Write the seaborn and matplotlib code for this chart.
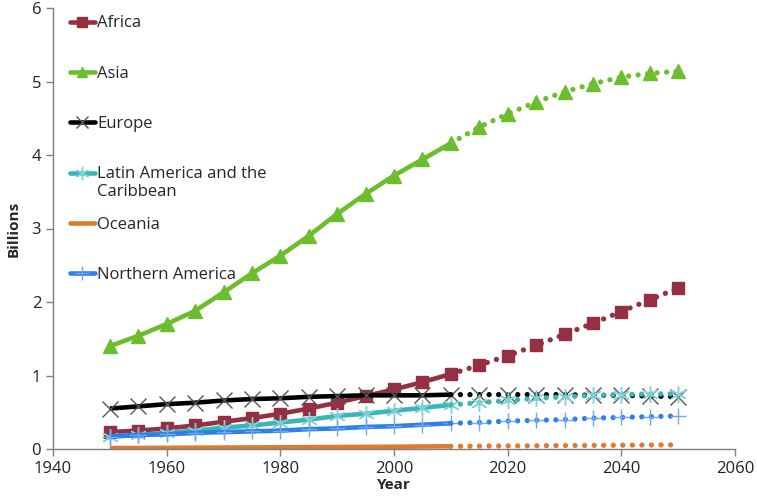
import numpy as np
import pandas as pd
import matplotlib
matplotlib.use("Agg")
import matplotlib.pyplot as plt
import seaborn as sns
from matplotlib.lines import Line2D

years = list(range(1950, 2055, 5))

africa = [0.23, 0.25, 0.28, 0.32, 0.37, 0.42, 0.48, 0.55, 0.63, 0.72, 0.81,
          0.91, 1.02, 1.14, 1.27, 1.41, 1.56, 1.71, 1.87, 2.03, 2.19]
asia = [1.40, 1.54, 1.70, 1.88, 2.13, 2.39, 2.63, 2.90, 3.20, 3.47, 3.72,
        3.94, 4.16, 4.38, 4.56, 4.72, 4.86, 4.97, 5.06, 5.11, 5.14]
europe = [0.55, 0.58, 0.61, 0.63, 0.66, 0.68, 0.69, 0.71, 0.72, 0.73, 0.73,
          0.73, 0.74, 0.74, 0.74, 0.74, 0.74, 0.73, 0.73, 0.72, 0.71]
latin = [0.17, 0.19, 0.22, 0.25, 0.29, 0.32, 0.36, 0.40, 0.45, 0.48, 0.52,
         0.56, 0.60, 0.63, 0.66, 0.69, 0.71, 0.73, 0.74, 0.75, 0.75]
oceania = [0.013, 0.014, 0.016, 0.018, 0.020, 0.021, 0.023, 0.025, 0.027,
           0.029, 0.031, 0.034, 0.037, 0.039, 0.042, 0.044, 0.047, 0.049,
           0.052, 0.054, 0.057]
n_america = [0.17, 0.19, 0.20, 0.22, 0.23, 0.24, 0.25, 0.27, 0.28, 0.30,
             0.31, 0.33, 0.35, 0.36, 0.38, 0.39, 0.40, 0.42, 0.43, 0.44, 0.45]

regions = ["Africa", "Asia", "Europe", "Latin America and the Caribbean",
           "Oceania", "Northern America"]
values = [africa, asia, europe, latin, oceania, n_america]

# line colour, marker, marker colour, marker size, marker edge width
styles = {
    "Africa": ("#953043", "s", "#953043", 9, 1),
    "Asia": ("#6CBE2E", "^", "#6CBE2E", 9.5, 1),
    "Europe": ("black", "x", "#555555", 11, 1.0),
    "Latin America and the Caribbean": ("#3BB6B6", (6, 2, 0), "#7FD3D8", 12, 1.0),
    "Oceania": ("#E07B2E", None, "#E07B2E", 0, 1),
    "Northern America": ("#2E7FE8", "+", "#6FA8F0", 12, 1.0),
}

rows = []
for region, vals in zip(regions, values):
    for y, v in zip(years, vals):
        rows.append({"Year": y, "Billions": v, "Region": region})
df = pd.DataFrame(rows)

sns.set_style("white")
plt.rcParams["font.family"] = ["Open Sans", "DejaVu Sans"]

fig = plt.figure(figsize=(7.57, 5.0), dpi=100)
ax = fig.add_axes([0.070, 0.102, 0.901, 0.882])

handles = []
for region in regions:
    color, marker, mcolor, ms, mew = styles[region]
    sub = df[df["Region"] == region]
    hist = sub[sub["Year"] <= 2010]
    proj = sub[sub["Year"] >= 2010]
    sns.lineplot(data=hist, x="Year", y="Billions", ax=ax, color=color,
                 linewidth=3.3, marker=marker, markersize=ms,
                 markerfacecolor=mcolor, markeredgecolor=mcolor,
                 markeredgewidth=mew, solid_capstyle="butt")
    sns.lineplot(data=proj, x="Year", y="Billions", ax=ax, color=color,
                 linewidth=3.8, linestyle=(0, (0.01, 1.8)),
                 dash_capstyle="round", marker=None)
    if marker is not None:
        ax.plot(proj["Year"].iloc[1:], proj["Billions"].iloc[1:],
                linestyle="none", marker=marker, markersize=ms,
                markerfacecolor=mcolor, markeredgecolor=mcolor,
                markeredgewidth=mew)
    handles.append(Line2D([0], [0], color=color, linewidth=3.3,
                          marker=marker, markersize=ms * 0.8,
                          markerfacecolor=mcolor, markeredgecolor=mcolor,
                          markeredgewidth=mew))

ax.set_xlim(1940, 2060)
ax.set_ylim(0, 6)
ax.set_xticks(range(1940, 2061, 20))
ax.set_yticks(range(0, 7))
ax.set_xlabel("Year", fontsize=11, fontweight="bold", labelpad=1)
ax.set_ylabel("Billions", fontsize=11, fontweight="bold", labelpad=8)
ax.tick_params(axis="both", labelsize=12, colors="#222222", length=5,
               width=1, direction="out", bottom=True, left=True)
ax.tick_params(axis="both", color="#7f7f7f")
sns.despine(ax=ax)
for side in ["left", "bottom"]:
    ax.spines[side].set_color("#7f7f7f")
    ax.spines[side].set_linewidth(1)

# legend: the long label wraps onto a second line below its own entry
labels = [r.replace(" Caribbean", "") for r in regions]
leg = ax.legend(handles, labels, loc="upper left",
                bbox_to_anchor=(0.01, 1.006), frameon=False, fontsize=12,
                handlelength=1.5, handletextpad=0.15, labelspacing=2.06,
                borderaxespad=0.2)
latin_text = leg.get_texts()[3]
ax.annotate("Caribbean", xy=(0, 0.5), xycoords=latin_text,
            xytext=(0, -13), textcoords="offset points",
            ha="left", va="center", fontsize=12, color="#222222", zorder=10)

fig.savefig("out.png", dpi=100)
